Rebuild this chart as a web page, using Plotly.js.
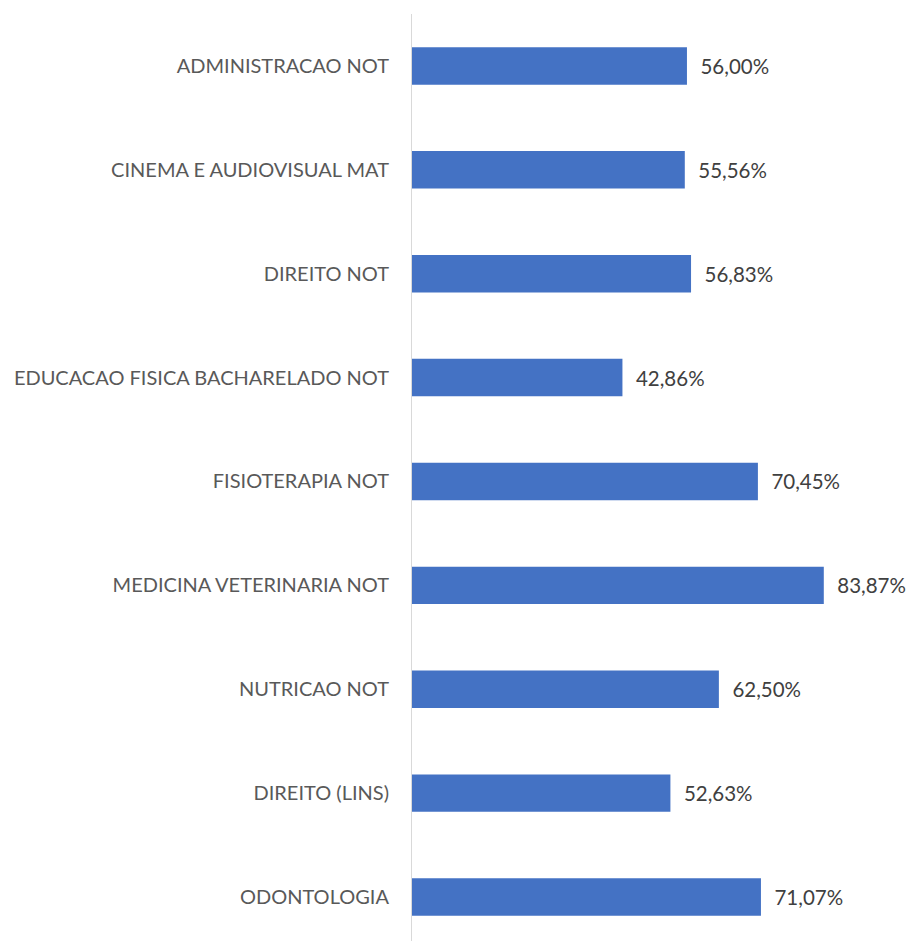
<!DOCTYPE html>
<html>
<head>
<meta charset="utf-8">
<script src="https://cdn.plot.ly/plotly-3.0.1.min.js"></script>
<style>html,body{margin:0;padding:0;background:#fff;}#chart{width:915px;height:941px;}</style>
</head>
<body>
<div id="chart"></div>
<script>
const categories = [
  "ADMINISTRACAO NOT",
  "CINEMA E AUDIOVISUAL MAT",
  "DIREITO NOT",
  "EDUCACAO FISICA BACHARELADO NOT",
  "FISIOTERAPIA NOT",
  "MEDICINA VETERINARIA NOT",
  "NUTRICAO NOT",
  "DIREITO (LINS)",
  "ODONTOLOGIA"
];
const values = [56.00, 55.56, 56.83, 42.86, 70.45, 83.87, 62.50, 52.63, 71.07];

const trace = {
  type: "bar",
  orientation: "h",
  y: categories,
  x: values,
  width: 0.36,
  marker: {color: "#4472C4"},
  texttemplate: "  %{x:.2f}%",
  textposition: "outside",
  cliponaxis: false,
  textfont: {family: "Lato, sans-serif", size: 20.5, color: "#404040"},
  hoverinfo: "none"
};

const layout = {
  width: 915,
  height: 941,
  margin: {l: 412, r: 12, t: 14, b: 0},
  separators: ",.",
  showlegend: false,
  paper_bgcolor: "#ffffff",
  plot_bgcolor: "#ffffff",
  font: {family: "Lato, sans-serif", size: 20, color: "#595959"},
  xaxis: {
    range: [0, 100],
    showgrid: false,
    zeroline: false,
    showticklabels: false,
    showline: false,
    fixedrange: true
  },
  yaxis: {
    type: "category",
    range: [8.424, -0.5],
    showgrid: false,
    zeroline: false,
    showline: true,
    linecolor: "#d9d9d9",
    linewidth: 1,
    ticks: "",
    ticklabelstandoff: 18,
    tickfont: {family: "Lato, sans-serif", size: 20, color: "#595959"},
    fixedrange: true
  }
};

Plotly.newPlot("chart", [trace], layout, {displayModeBar: false, staticPlot: true});
</script>
</body>
</html>
